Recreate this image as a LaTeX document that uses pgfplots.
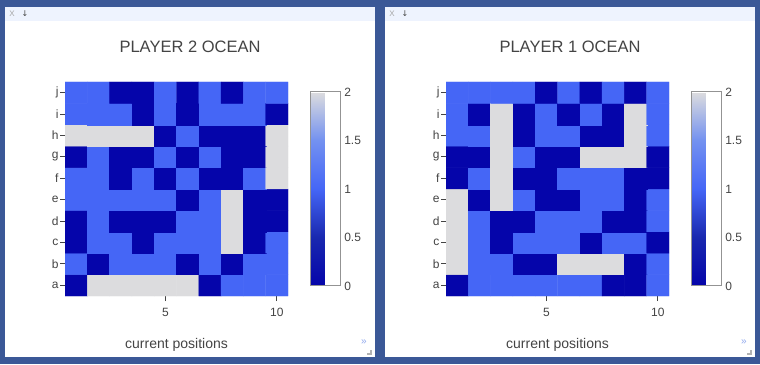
\documentclass[border=0pt]{standalone}
\usepackage{pgfplots}
\pgfplotsset{compat=1.18}
\usepackage{pgfplotstable}
\usepackage{fontspec}
\setmainfont{Liberation Sans}
\newfontfamily\dejavu{DejaVu Sans}
\definecolor{bgblue}{HTML}{3B5897}
\definecolor{barbg}{HTML}{EEF3FE}
\definecolor{txt}{HTML}{444444}
\definecolor{iconblue}{HTML}{8FA8EE}

\pgfplotstableread[row sep=\\]{
x y v\\
1 1 0\\ 2 1 2\\ 3 1 2\\ 4 1 2\\ 5 1 2\\ 6 1 2\\ 7 1 0\\ 8 1 1\\ 9 1 1\\ 10 1 1\\
1 2 1\\ 2 2 0\\ 3 2 1\\ 4 2 1\\ 5 2 1\\ 6 2 0\\ 7 2 1\\ 8 2 0\\ 9 2 1\\ 10 2 1\\
1 3 0\\ 2 3 1\\ 3 3 1\\ 4 3 0\\ 5 3 1\\ 6 3 1\\ 7 3 1\\ 8 3 2\\ 9 3 0\\ 10 3 1\\
1 4 0\\ 2 4 1\\ 3 4 0\\ 4 4 0\\ 5 4 0\\ 6 4 1\\ 7 4 1\\ 8 4 2\\ 9 4 0\\ 10 4 0\\
1 5 1\\ 2 5 1\\ 3 5 1\\ 4 5 1\\ 5 5 1\\ 6 5 0\\ 7 5 1\\ 8 5 2\\ 9 5 0\\ 10 5 0\\
1 6 1\\ 2 6 1\\ 3 6 0\\ 4 6 1\\ 5 6 0\\ 6 6 1\\ 7 6 0\\ 8 6 0\\ 9 6 1\\ 10 6 2\\
1 7 0\\ 2 7 1\\ 3 7 0\\ 4 7 0\\ 5 7 1\\ 6 7 0\\ 7 7 1\\ 8 7 0\\ 9 7 0\\ 10 7 2\\
1 8 2\\ 2 8 2\\ 3 8 2\\ 4 8 2\\ 5 8 0\\ 6 8 1\\ 7 8 0\\ 8 8 0\\ 9 8 0\\ 10 8 2\\
1 9 1\\ 2 9 1\\ 3 9 1\\ 4 9 0\\ 5 9 1\\ 6 9 0\\ 7 9 1\\ 8 9 1\\ 9 9 1\\ 10 9 0\\
1 10 1\\ 2 10 1\\ 3 10 0\\ 4 10 0\\ 5 10 1\\ 6 10 0\\ 7 10 1\\ 8 10 0\\ 9 10 1\\ 10 10 1\\
}\playertwo

\pgfplotstableread[row sep=\\]{
x y v\\
1 1 0\\ 2 1 1\\ 3 1 1\\ 4 1 1\\ 5 1 1\\ 6 1 1\\ 7 1 1\\ 8 1 0\\ 9 1 0\\ 10 1 1\\
1 2 2\\ 2 2 1\\ 3 2 1\\ 4 2 0\\ 5 2 0\\ 6 2 2\\ 7 2 2\\ 8 2 2\\ 9 2 0\\ 10 2 1\\
1 3 2\\ 2 3 1\\ 3 3 0\\ 4 3 1\\ 5 3 1\\ 6 3 1\\ 7 3 0\\ 8 3 1\\ 9 3 1\\ 10 3 0\\
1 4 2\\ 2 4 1\\ 3 4 0\\ 4 4 0\\ 5 4 1\\ 6 4 1\\ 7 4 1\\ 8 4 0\\ 9 4 0\\ 10 4 1\\
1 5 2\\ 2 5 0\\ 3 5 2\\ 4 5 1\\ 5 5 0\\ 6 5 0\\ 7 5 1\\ 8 5 1\\ 9 5 0\\ 10 5 1\\
1 6 0\\ 2 6 1\\ 3 6 2\\ 4 6 0\\ 5 6 0\\ 6 6 1\\ 7 6 1\\ 8 6 1\\ 9 6 0\\ 10 6 0\\
1 7 0\\ 2 7 0\\ 3 7 2\\ 4 7 1\\ 5 7 0\\ 6 7 0\\ 7 7 2\\ 8 7 2\\ 9 7 2\\ 10 7 0\\
1 8 1\\ 2 8 1\\ 3 8 2\\ 4 8 0\\ 5 8 1\\ 6 8 1\\ 7 8 0\\ 8 8 0\\ 9 8 2\\ 10 8 1\\
1 9 1\\ 2 9 0\\ 3 9 2\\ 4 9 0\\ 5 9 1\\ 6 9 0\\ 7 9 1\\ 8 9 0\\ 9 9 2\\ 10 9 1\\
1 10 1\\ 2 10 1\\ 3 10 1\\ 4 10 1\\ 5 10 0\\ 6 10 1\\ 7 10 0\\ 8 10 1\\ 9 10 0\\ 10 10 1\\
}\playerone

\pgfplotsset{
  ocean/.style={
    scale only axis, width=223pt, height=214pt, anchor=south west,
    xmin=0.5, xmax=10.5, ymin=0.5, ymax=10.5,
    axis line style={draw=none},
    tick align=outside, major tick length=5pt,
    tick style={draw=txt, line width=0.8pt},
    tick pos=left,
    xtick={5,10}, ytick={1,...,10},
    yticklabels={a,b,c,d,e,f,g,h,i,j},
    ticklabel style={font=\fontsize{12}{12}\selectfont, text=txt},
    xticklabel style={yshift=-4pt},
    yticklabel style={xshift=2pt},
    /pgf/number format/assume math mode=true,
    colormap={ocean}{rgb255(0cm)=(5,5,170); rgb255(2cm)=(25,40,175); rgb255(4cm)=(69,102,246); rgb255(6cm)=(115,145,240); rgb255(8cm)=(220,220,222)},
    point meta min=0, point meta max=2,
    colorbar,
    colorbar style={
      at={(parent axis.south east)}, anchor=south west,
      xshift=13.7pt, yshift=10pt,
      scale only axis, width=30.5pt, height=194pt,
      ytick={0,0.5,1,1.5,2}, major tick length=0pt,
      axis line style={draw=gray!85, line width=1pt},
      yticklabel pos=right,
      yticklabel style={font=\fontsize{12}{12}\selectfont, text=txt, xshift=0pt},
      /pgf/number format/assume math mode=true,
    },
    title style={at={(axis description cs:0.5,1)}, anchor=base, yshift=23pt,
      font=\fontsize{16.5}{16.5}\selectfont, text=txt},
    xlabel style={at={(axis description cs:0.5,0)}, anchor=base, yshift=-52pt,
      font=\fontsize{14}{14}\selectfont, text=txt},
    xlabel={current positions},
  }
}

\begin{document}
\begin{tikzpicture}[x=1pt,y=1pt]
\useasboundingbox (0,0) rectangle (760,364);
\fill[bgblue] (0,0) rectangle (760,364);
% panels
\fill[white] (5,7) rectangle (375,357);
\fill[barbg] (5,343) rectangle (375,357);
\fill[white] (385,7) rectangle (755,357);
\fill[barbg] (385,343) rectangle (755,357);
% toolbar icons
\node[text=gray!70, font=\fontsize{8}{8}\selectfont] at (12,350) {X};
\node[text=txt, font=\dejavu\fontsize{8}{8}\selectfont] at (25,350) {↓};
\node[text=gray!70, font=\fontsize{8}{8}\selectfont] at (392,350) {X};
\node[text=txt, font=\dejavu\fontsize{8}{8}\selectfont] at (405,350) {↓};
% bottom-right icons
\node[text=iconblue, font=\fontsize{10}{10}\selectfont] at (364,22) {»};
\draw[gray!60, line width=1.3pt] (367,10) -- (371,10) -- (371,14);
\node[text=iconblue, font=\fontsize{10}{10}\selectfont] at (744,22) {»};
\draw[gray!60, line width=1.3pt] (747,10) -- (751,10) -- (751,14);

\begin{axis}[ocean, at={(65pt,68pt)}, title={PLAYER 2 OCEAN},
  title style={xshift=13.5pt}]
\addplot[matrix plot*, mesh/cols=10, point meta=explicit] table[x=x, y=y, meta=v] {\playertwo};
\end{axis}

\begin{axis}[ocean, at={(446pt,68pt)}, title={PLAYER 1 OCEAN},
  title style={xshift=12.5pt}]
\addplot[matrix plot*, mesh/cols=10, point meta=explicit] table[x=x, y=y, meta=v] {\playerone};
\end{axis}
\end{tikzpicture}
\end{document}
